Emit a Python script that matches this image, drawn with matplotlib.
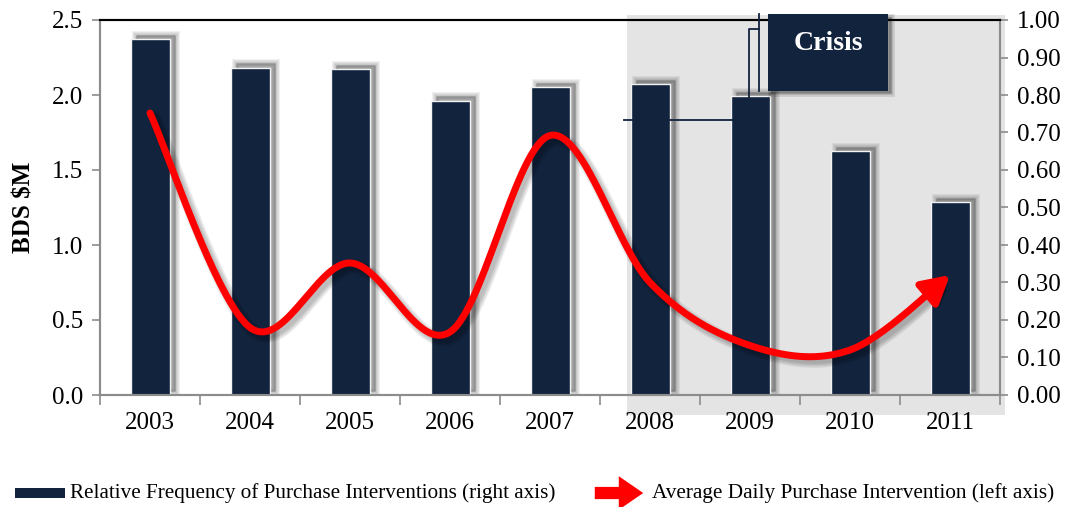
import numpy as np
import matplotlib.pyplot as plt
from matplotlib.patches import Rectangle, FancyArrowPatch
import matplotlib.patheffects as pe

years = ['2003', '2004', '2005', '2006', '2007', '2008', '2009', '2010', '2011']
# relative frequency of purchase interventions (right axis)
freq = [0.95, 0.873, 0.869, 0.785, 0.821, 0.829, 0.797, 0.65, 0.515]
# average daily purchase intervention, BDS $M (left axis)
avg_purchase = [1.88, 0.45, 0.88, 0.42, 1.73, 0.75, 0.33, 0.30, 0.80]

NAVY = '#12233d'
RED = '#ff0000'

plt.rcParams['font.family'] = ['Liberation Serif', 'DejaVu Serif']


def smooth(xs, ys, n=60):
    # catmull-rom, same look as a spreadsheet "smoothed line"
    pts = np.column_stack([xs, ys]).astype(float)
    out = []
    for i in range(len(pts) - 1):
        p0 = pts[max(i - 1, 0)]
        p1, p2 = pts[i], pts[i + 1]
        p3 = pts[min(i + 2, len(pts) - 1)]
        t = np.linspace(0, 1, n, endpoint=(i == len(pts) - 2))[:, None]
        seg = 0.5 * ((2 * p1) + (-p0 + p2) * t + (2 * p0 - 5 * p1 + 4 * p2 - p3) * t ** 2
                     + (-p0 + 3 * p1 - 3 * p2 + p3) * t ** 3)
        out.append(seg)
    out = np.vstack(out)
    return out[:, 0], out[:, 1]


def soft_shadow(offset=(4, 3), steps=(0.5, 2, 3.5, 5, 6.5), alpha=0.06):
    fx = [pe.PathPatchEffect(offset=offset, facecolor='k', edgecolor='k',
                             linewidth=w, alpha=alpha) for w in steps]
    return fx + [pe.Normal()]


fig = plt.figure(figsize=(10.77, 5.07), dpi=100)
W, H = 1077, 507

# shaded crisis period behind the plot
fig.patches.append(Rectangle((627 / W, 1 - 415 / H), 378 / W, 400 / H,
                             transform=fig.transFigure, facecolor='#e4e4e4',
                             edgecolor='none', zorder=-1))

ax = fig.add_axes([100 / W, 1 - 395 / H, 900 / W, 375 / H])
ax2 = ax.twinx()
ax.set_zorder(3)
ax.patch.set_visible(False)
ax2.patch.set_visible(False)

x = np.arange(len(years))

bars = ax2.bar(x, freq, width=0.39, color=NAVY, edgecolor='#f2f2f2', linewidth=1.0)
for b in bars:
    b.set_path_effects(soft_shadow())

# smoothed red line with arrow head at the end
sx, sy = smooth(x, avg_purchase)
cut = len(sx) - 12
line_fx = [pe.SimpleLineShadow(offset=(3, -3), shadow_color='k', alpha=0.07, linewidth=w)
           for w in (4, 6, 8, 10)] + [pe.Normal()]
ax.plot(sx[:cut], sy[:cut], color=RED, lw=5, solid_capstyle='round', path_effects=line_fx)
head = FancyArrowPatch((sx[cut - 3], sy[cut - 3]), (sx[-1], sy[-1]),
                       arrowstyle='-|>,head_length=0.75,head_width=0.42',
                       mutation_scale=22, color=RED, lw=5, shrinkA=0, shrinkB=0,
                       zorder=3)
head.set_path_effects([pe.SimplePatchShadow(offset=(3, -3), shadow_rgbFace='k', alpha=0.2),
                       pe.Normal()])
ax.add_patch(head)

ax.set_xlim(-0.5, len(years) - 0.5)
ax.set_ylim(0, 2.5)
ax2.set_ylim(0, 1.0)

ax.set_yticks(np.arange(0, 2.51, 0.5))
ax.set_yticklabels([f'{v:.1f}' for v in np.arange(0, 2.51, 0.5)])
ax2.set_yticks(np.arange(0, 1.001, 0.1))
ax2.set_yticklabels([f'{v:.2f}' for v in np.arange(0, 1.001, 0.1)])

ax.set_xticks(np.arange(-0.5, len(years), 1))
ax.set_xticklabels([])
ax.set_xticks(x, minor=True)
ax.set_xticklabels(years, minor=True)
ax.tick_params(axis='x', which='major', direction='out', length=7, color='#8c8c8c', width=1.2)
ax.tick_params(axis='x', which='minor', length=0, pad=12, labelsize=18)
ax.tick_params(axis='y', direction='out', length=6, color='#8c8c8c', width=1.2,
               labelsize=18, pad=6)
ax2.tick_params(axis='y', direction='out', length=6, color='#8c8c8c', width=1.2,
                labelsize=18, pad=6)

for a in (ax, ax2):
    for side in ('left', 'right', 'bottom'):
        a.spines[side].set_color('#8c8c8c')
        a.spines[side].set_linewidth(1.5)
    a.spines['top'].set_color('black')
    a.spines['top'].set_linewidth(1.5)

ax.set_ylabel('BDS $M', fontsize=18, fontweight='bold', labelpad=12)

# crisis callout
call = dict(color=NAVY, lw=1.3, clip_on=False, zorder=6)
ax.plot([4.74, 5.99, 5.99, 6.09], [1.833, 1.833, 2.44, 2.44], **call)
ax.plot([6.09, 6.09], [2.03, 2.54], **call)
box = Rectangle((6.18, 2.03), 1.2, 0.51, facecolor=NAVY, edgecolor='none',
                clip_on=False, zorder=7)
box.set_path_effects(soft_shadow(offset=(2, -2), steps=(1, 3, 5), alpha=0.1))
ax.add_patch(box)
ax.text(6.78, 2.34, 'Crisis', color='white', fontsize=20, fontweight='bold',
        ha='center', va='center', zorder=8, clip_on=False)

# legend along the bottom
ly = 1 - 493 / H
fig.patches.append(Rectangle((15 / W, ly - 5 / H), 50 / W, 10 / H, transform=fig.transFigure,
                             facecolor=NAVY, edgecolor='none'))
fig.text(70 / W, ly, 'Relative Frequency of Purchase Interventions (right axis)',
         fontsize=15.2, va='center', ha='left')
fig.patches.append(FancyArrowPatch((592 / W, ly), (646 / W, ly), transform=fig.transFigure,
                                   arrowstyle='simple,head_length=0.8,head_width=1.1,tail_width=0.4',
                                   mutation_scale=22, color=RED, lw=0))
fig.text(652 / W, ly, 'Average Daily Purchase Intervention (left axis)',
         fontsize=15.3, va='center', ha='left')

fig.savefig('out.png', dpi=100)
